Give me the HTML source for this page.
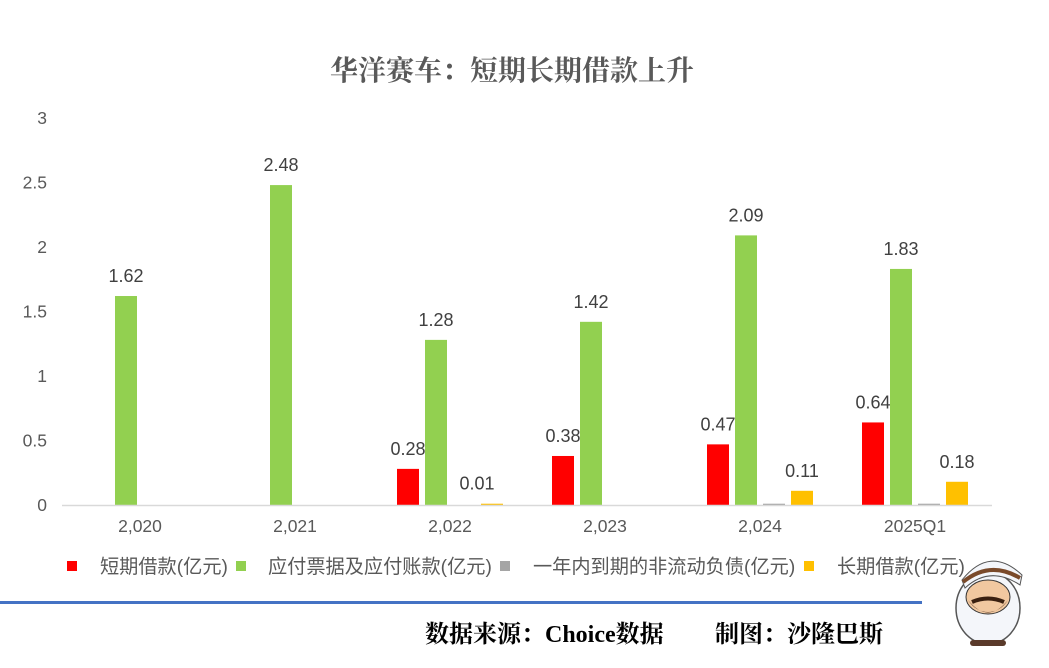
<!DOCTYPE html>
<html><head><meta charset="utf-8"><style>
body{margin:0;background:#fff;width:1049px;height:663px;overflow:hidden;font-family:"Liberation Sans","Noto Sans CJK SC",sans-serif}
</style></head><body>
<svg id="chart" width="1049" height="663" xmlns="http://www.w3.org/2000/svg" font-family="Liberation Sans, Noto Sans CJK SC, sans-serif">
<text x="512" y="80" text-anchor="middle" font-size="28" font-weight="bold" fill="#595959" font-family="Noto Serif CJK SC, serif">华洋赛车：短期长期借款上升</text>
<g id="yaxis"></g><g id="bars"></g><g id="xaxis"></g>
<line x1="62" y1="505.5" x2="992" y2="505.5" stroke="#d9d9d9" stroke-width="1.5"/>
<g font-size="19.2" fill="#595959">
<rect x="67" y="561" width="10" height="10" fill="#ff0000"/>
<text x="100" y="573">短期借款(亿元)</text>
<rect x="236" y="561" width="10" height="10" fill="#92d050"/>
<text x="268" y="573">应付票据及应付账款(亿元)</text>
<rect x="500" y="561" width="10" height="10" fill="#a5a5a5"/>
<text x="533" y="573">一年内到期的非流动负债(亿元)</text>
<rect x="804" y="561" width="10" height="10" fill="#ffc000"/>
<text x="837" y="573">长期借款(亿元)</text>
</g>
<rect x="0" y="601" width="922" height="3" fill="#4472c4"/>
<text x="425" y="642" font-size="24" font-weight="bold" fill="#000" font-family="Liberation Serif, Noto Serif CJK SC, serif">数据来源：Choice数据</text>
<text x="715" y="642" font-size="24" font-weight="bold" fill="#000" font-family="Liberation Serif, Noto Serif CJK SC, serif">制图：沙隆巴斯</text>
<g>
<ellipse cx="988" cy="608" rx="32" ry="36" fill="#f4f6fa" stroke="#555" stroke-width="1.5"/>
<path d="M962 580 Q990 545 1022 575 L1020 585 Q990 565 965 588 Z" fill="#f4f6fa" stroke="#555"/>
<path d="M963 582 Q990 560 1020 578" stroke="#7a4a2a" stroke-width="4" fill="none"/>
<ellipse cx="988" cy="597" rx="22" ry="17" fill="#f1c8a0" stroke="#333"/>
<path d="M968 600 Q988 625 1008 600 Q1000 612 988 612 Q976 612 968 600Z" fill="#4a2c1a"/>
<path d="M972 602 Q988 595 1004 602" stroke="#3a2010" stroke-width="4" fill="none"/>
<rect x="970" y="640" width="36" height="6" rx="3" fill="#5a3a2a"/>
</g>
</svg>
<script>
const categories=["2,020","2,021","2,022","2,023","2,024","2025Q1"];
const shortLoan=[0,0,0.28,0.38,0.47,0.64];
const payables=[1.62,2.48,1.28,1.42,2.09,1.83];
const currentNonCurrent=[0,0,0,0,0.01,0.01];
const longLoan=[0,0,0.01,0,0.11,0.18];
const yTicks=[0,0.5,1,1.5,2,2.5,3];
const yTickLabels=["0","0.5","1","1.5","2","2.5","3"];
const NS="http://www.w3.org/2000/svg";
const y0=505,pxPerUnit=129,x0=140,step=155,bw=22;
const yScale=v=>y0-v*pxPerUnit;
const xScale=i=>x0+i*step;
function mk(tag,attrs,parent){const e=document.createElementNS(NS,tag);for(const k in attrs)e.setAttribute(k,attrs[k]);parent.appendChild(e);return e;}
const ya=document.getElementById('yaxis'),ba=document.getElementById('bars'),xa=document.getElementById('xaxis');
yTicks.forEach((t,i)=>{const e=mk('text',{x:47,y:yScale(t)+6,'text-anchor':'end','font-size':17.5,fill:'#595959'},ya);e.textContent=yTickLabels[i];

});
categories.forEach((c,i)=>{const e=mk('text',{x:xScale(i),y:532,'text-anchor':'middle','font-size':17.5,fill:'#595959'},xa);e.textContent=c;

});
const series=[[shortLoan,'#ff0000',-42,'short-loan',true],[payables,'#92d050',-14,'payables',true],[currentNonCurrent,'#a5a5a5',14,'current-noncurrent',false],[longLoan,'#ffc000',42,'long-loan',true]];
series.forEach(([vals,col,off,nm,lab])=>{vals.forEach((v,i)=>{if(v<=0)return;const cx=xScale(i)+off;
const h=v*pxPerUnit;
const r=mk('rect',{x:cx-bw/2,y:y0-h,width:bw,height:h,fill:col},ba);


if(lab){const t=mk('text',{x:nm==='long-loan'&&v<0.05?cx-15:cx,y:y0-h-14,'text-anchor':'middle','font-size':18,fill:'#404040'},ba);t.textContent=v.toFixed(2);

}});});
</script>
</body></html>
